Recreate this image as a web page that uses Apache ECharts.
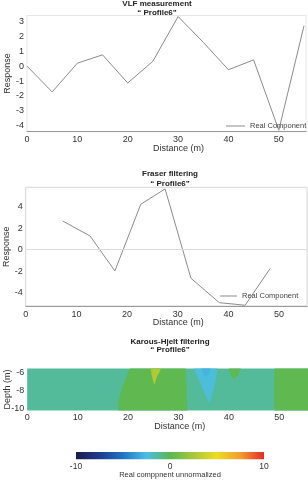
<!DOCTYPE html>
<html>
<head>
<meta charset="utf-8">
<script src="https://cdn.jsdelivr.net/npm/echarts@6/dist/echarts.min.js"></script>
<style>html,body{margin:0;padding:0;background:#fff}#c{width:308px;height:480px}</style>
</head>
<body>
<div id="c"></div>
<script>
// ---- data ----
const vlfDistance = [0, 5, 10, 15, 20, 25, 30, 35, 40, 45, 50, 55];
const vlfReal = [0, -1.73, 0.2, 0.76, -1.13, 0.33, 3.33, 1.6, -0.24, 0.42, -4.3, 2.71];
const vlfTicks = [-4, -3, -2, -1, 0, 1, 2, 3];

const fraserDistance = [7.3, 12.7, 17.6, 22.7, 27.5, 32.6, 38.2, 43.3, 48.2];
const fraserReal = [2.67, 1.27, -1.98, 4.22, 5.65, -2.66, -4.93, -5.17, -1.77];
const fraserTicks = [-4, -2, 0, 2, 4];

const distanceTicks = [0, 10, 20, 30, 40, 50];
const depthTicks = [-10, -8, -6];
// Karous-Hjelt regions: value and outline [distance, depth]
const khValues = [-1.2, 0.2, 2.8, -2.3, -2.9, 0.2, 0.2];
const khShapes = [
  [[0, -5.6], [55.7, -5.6], [55.7, -10.2], [0, -10.2]],
  [[20.4, -5.6], [31.4, -5.6], [31.7, -10.2], [18.1, -10.2], [18.2, -9.2], [18.7, -8], [19.5, -6.8]],
  [[24.5, -5.6], [26.5, -5.6], [25.7, -6.5], [25.2, -7.3], [24.8, -6.5]],
  [[33.1, -5.6], [37.7, -5.6], [37.3, -7], [36.6, -8.5], [36.1, -9.4], [35.4, -8.5], [34.2, -7]],
  [[34.6, -5.6], [36.3, -5.6], [35.8, -6.4], [35.2, -6.4]],
  [[40.1, -5.6], [42.3, -5.6], [41.8, -6.3], [41, -6.7], [40.4, -6.3]],
  [[49.1, -5.6], [55.7, -5.6], [55.7, -10.2], [49.1, -10.2]]
];
const colorScale = ['#1b1b4d', '#1e3c8c', '#2273c4', '#4cbee6', '#5ab852', '#a6c83a', '#ecdc22', '#f29c30', '#e42a28'];
const colorbarRange = [-10, 10];
const colorbarTicks = [-10, 0, 10];

// ---- chart ----
const FONT = "'Liberation Sans', Arial, sans-serif";
const TXT = '#333';
const chart = echarts.init(document.getElementById('c'), null, {renderer: 'canvas'});

function xAxisCfg(gi, max, labelMargin) {
  return {
    type: 'value', gridIndex: gi, min: 0, max: max,
    name: 'Distance (m)', nameLocation: 'middle', nameGap: 12, nameMoveOverlap: false,
    nameTextStyle: {fontFamily: FONT, fontSize: 9, color: TXT, padding: [0, 0, 0, 24]},
    axisLine: {show: gi !== 2, onZero: false, lineStyle: {color: '#999', width: 1}},
    axisTick: {show: false},
    splitLine: {show: false},
    axisLabel: {fontFamily: FONT, fontSize: 9, color: TXT, margin: labelMargin, customValues: distanceTicks}
  };
}
function yAxisCfg(gi, min, max, ticks, name) {
  return {
    type: 'value', gridIndex: gi, min: min, max: max,
    name: name, nameLocation: 'middle', nameGap: 15, nameMoveOverlap: false,
    nameTextStyle: {fontFamily: FONT, fontSize: 9, color: TXT},
    axisLine: {show: false, onZero: false},
    axisTick: {show: false},
    splitLine: {show: false},
    axisLabel: {fontFamily: FONT, fontSize: 9, color: TXT, margin: 3, customValues: ticks}
  };
}

const cbStops = colorScale.map((c, i) => ({offset: i / (colorScale.length - 1), color: c}));

chart.setOption({
  animation: false,
  textStyle: {fontFamily: FONT},
  title: [
    {text: 'VLF measurement\n\u201c Profile6\u201d', left: 157, top: -1, textAlign: 'center', padding: 0,
     textStyle: {fontFamily: FONT, fontSize: 8, fontWeight: 'bold', lineHeight: 9, color: '#222'}},
    {text: 'Fraser filtering\n\u201c Profile6\u201d', left: 170, top: 169.4, textAlign: 'center', padding: 0,
     textStyle: {fontFamily: FONT, fontSize: 8, fontWeight: 'bold', lineHeight: 9.3, color: '#222'}},
    {text: 'Karous-Hjelt filtering\n\u201c Profile6\u201d', left: 170, top: 338.5, textAlign: 'center', padding: 0,
     textStyle: {fontFamily: FONT, fontSize: 8, fontWeight: 'bold', lineHeight: 7.5, color: '#222'}}
  ],
  legend: [
    {data: ['Real Component'], left: 226, top: 122, padding: 0, icon: 'rect', itemWidth: 19, itemHeight: 1,
     itemStyle: {color: '#8c8c8c'},
     textStyle: {fontFamily: FONT, fontSize: 7.5, color: '#444'}},
    {data: ['Real Component'], left: 220, top: 292, padding: 0, icon: 'rect', itemWidth: 17, itemHeight: 1,
     itemStyle: {color: '#8c8c8c'},
     textStyle: {fontFamily: FONT, fontSize: 7.5, color: '#444'}}
  ],
  grid: [
    {left: 27, top: 15.5, width: 279, height: 116.2, show: true, borderColor: '#e6e6e6', borderWidth: 1, outerBoundsMode: 'none'},
    {left: 25.7, top: 187.3, width: 281.3, height: 118.7, show: true, borderColor: '#d6d6d6', borderWidth: 1, outerBoundsMode: 'none'},
    {left: 27.3, top: 368.5, width: 280.7, height: 42, outerBoundsMode: 'none'},
    {left: 76, top: 452, width: 188, height: 7.3, outerBoundsMode: 'none'}
  ],
  xAxis: [
    xAxisCfg(0, 55.4, 3),
    xAxisCfg(1, 55.5, 4),
    xAxisCfg(2, 55.7, 3),
    {type: 'value', gridIndex: 3, min: colorbarRange[0], max: colorbarRange[1],
     name: 'Real comppnent unnormalized', nameLocation: 'middle', nameGap: 12, nameMoveOverlap: false,
     nameTextStyle: {fontFamily: FONT, fontSize: 7.5, color: TXT},
     axisLine: {show: false}, axisTick: {show: false}, splitLine: {show: false},
     axisLabel: {fontFamily: FONT, fontSize: 8.5, color: TXT, margin: 3, customValues: colorbarTicks}}
  ],
  yAxis: [
    yAxisCfg(0, -4.4, 3.4, vlfTicks, 'Response'),
    yAxisCfg(1, -5.24, 5.8, fraserTicks, 'Response'),
    yAxisCfg(2, -10.2, -5.6, depthTicks, 'Depth (m)'),
    {type: 'value', gridIndex: 3, min: 0, max: 1, show: false}
  ],
  visualMap: {
    type: 'continuous', show: false, min: colorbarRange[0], max: colorbarRange[1],
    dimension: 1, seriesIndex: [2], inRange: {color: colorScale}
  },
  series: [
    {type: 'line', name: 'Real Component', xAxisIndex: 0, yAxisIndex: 0, symbol: 'none',
     lineStyle: {color: '#8c8c8c', width: 1}, itemStyle: {color: '#8c8c8c'},
     data: vlfDistance.map((d, i) => [d, vlfReal[i]])},
    {type: 'line', name: 'Real Component', xAxisIndex: 1, yAxisIndex: 1, symbol: 'none',
     lineStyle: {color: '#8c8c8c', width: 1}, itemStyle: {color: '#8c8c8c'},
     data: fraserDistance.map((d, i) => [d, fraserReal[i]]),
     markLine: {silent: true, symbol: 'none', label: {show: false},
       lineStyle: {color: '#dcdcdc', width: 1, type: 'solid'}, data: [{yAxis: 0}]}},
    {type: 'custom', name: 'KH', xAxisIndex: 2, yAxisIndex: 2, clip: true,
     data: khValues.map((v, i) => [i, v]),
     renderItem: function (params, api) {
       const shape = khShapes[api.value(0)];
       const pts = shape.map(p => api.coord(p));
       const c = api.visual('color');
       return {type: 'polygon', shape: {points: pts}, style: {fill: c, stroke: c, lineWidth: 0.6}};
     }},
    {type: 'custom', name: 'colorbar', xAxisIndex: 3, yAxisIndex: 3,
     data: [[colorbarRange[0], colorbarRange[1]]],
     renderItem: function (params, api) {
       const p0 = api.coord([api.value(0), 1]);
       const p1 = api.coord([api.value(1), 0]);
       return {type: 'rect', shape: {x: p0[0], y: p0[1], width: p1[0] - p0[0], height: p1[1] - p0[1]},
         style: {fill: {type: 'linear', x: 0, y: 0, x2: 1, y2: 0, colorStops: cbStops}}};
     }}
  ]
});
</script>
</body>
</html>
